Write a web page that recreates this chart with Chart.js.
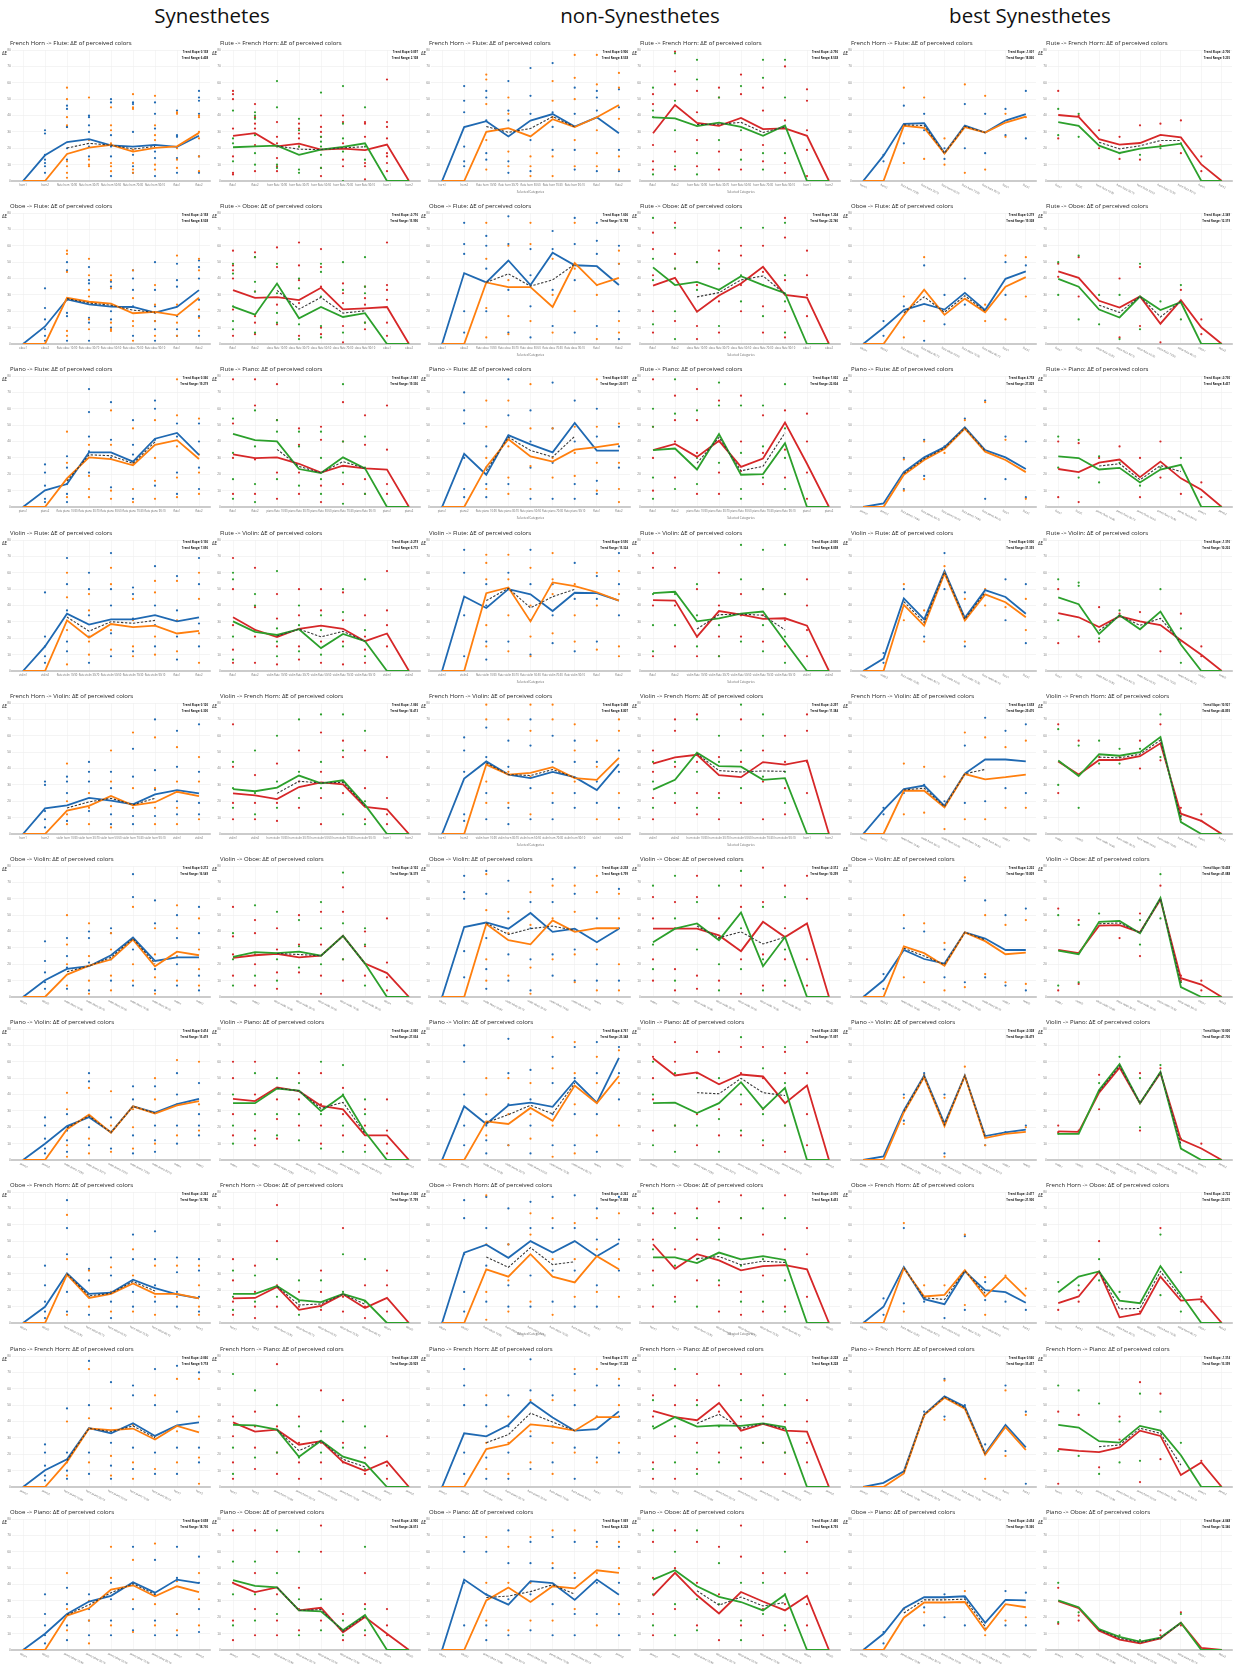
<!DOCTYPE html>
<html>
<head>
<meta charset="utf-8">
<script src="https://cdn.jsdelivr.net/npm/chart.js@4.4.0/dist/chart.umd.min.js"></script>
<style>
  body { margin: 0; background: #fff; width: 1239px; height: 1670px; position: relative; overflow: hidden; font-family: "Open Sans", sans-serif; }
  .head { position: absolute; top: 1px; width: 300px; text-align: center; font-size: 20.5px; color: #111; line-height: 28px; }
  canvas { position: absolute; }
</style>
</head>
<body>
<div class="head" style="left:62px">Synesthetes</div>
<div class="head" style="left:490px">non-Synesthetes</div>
<div class="head" style="left:880px">best Synesthetes</div>
<script>
// panel rows: source -> target (left panel), target -> source (right panel)
const pairs = [
  ["French Horn", "Flute"], ["Oboe", "Flute"], ["Piano", "Flute"], ["Violin", "Flute"],
  ["French Horn", "Violin"], ["Oboe", "Violin"], ["Piano", "Violin"],
  ["Oboe", "French Horn"], ["Piano", "French Horn"], ["Oboe", "Piano"]
];
const shortNames = { "French Horn": "horn", "Flute": "flute", "Oboe": "oboe", "Piano": "piano", "Violin": "violin" };
const mixLabels = ["10:90", "30:70", "50:50", "70:30", "90:10"];

// ---- Synesthetes: lines ----
const synBlue = [
  [0,15.7,23.8,25.6,21.8,21,22,20.8,27.6],
  [0,10.7,27.2,24.2,22.8,22.6,19.2,22.6,32.9],
  [0,10.2,14,33.4,33.4,27.7,41.7,45.2,31.8],
  [0,15,35,28.3,31.5,31.5,34.1,30.3,32.8],
  [0,15.6,17.5,22,20.4,18.2,24.2,26.8,24.8],
  [0,10.2,17.2,18.8,25.5,36.3,22,24.2,24.2],
  [0,9.9,20.7,26.1,16.9,32.8,29,34.1,37.3],
  [0,9.9,30.3,17.8,18.5,26.4,21.3,17.5,15],
  [0,10.2,16.9,36,32.8,38.9,31.2,37.6,39.5],
  [0,9.9,22,29.6,33.1,41.4,35,43,40.8]
];
const synOrange = [
  [0,0,16.5,20.4,22,18,20.2,21.2,29.4],
  [0,0,28.2,25.8,24.6,18.8,19.6,17.5,28.2],
  [0,0,17.5,30.3,29.3,25.5,37.9,40.8,29.3],
  [0,0,30.9,20.4,28.7,26.8,27.7,22.9,24.5],
  [0,0,14.3,17.2,23.2,17.5,19.4,25.8,23.2],
  [0,0,13.7,19.1,22.9,35,18.8,27.7,25.5],
  [0,0,18.8,27.7,16.6,32.8,28.3,33.4,36],
  [0,0,29.6,15.3,17.8,24.2,17.8,17.8,15],
  [0,0,15.3,35.7,34.7,35.7,29,37.3,33.4],
  [0,0,21,25.5,36.9,39.5,32.8,38.9,35.4]
];
const synRed = [
  [27.6,29.2,21.2,22.8,19.2,19.8,18.8,22.2,0],
  [32.9,28.2,28.6,26.8,34.3,21.2,21.8,22.6,0],
  [32.2,29.9,30.3,26.4,21,25.2,23.6,22.9,0],
  [32.8,25.2,20.7,25.8,27.7,25.8,18.2,22.9,0],
  [24.8,23.6,21.3,28.7,31.5,30.3,16.6,15,0],
  [23.9,25.5,26.4,24.2,25.2,37.3,20.4,14.6,0],
  [37.3,36,44.3,42,33.1,30.9,15,15,0],
  [15,15.3,22,8,10.5,17.5,9.2,15.3,0],
  [39.5,33.8,35,25.8,28,15.3,9.9,15.6,0],
  [40.8,35.4,38.2,24.2,25.8,10.8,20.1,9.9,0]
];
const synGreen = [
  [20.6,21.2,21.6,16,19.2,20.8,23,0,0],
  [22.8,17.9,36.9,15.7,22.6,16.5,18.8,0,0],
  [44.6,40.8,40.1,23.2,20.7,30.3,23.6,0,0],
  [30.3,23.9,22,25.5,14,22.6,18.2,0,0],
  [27.4,26.1,28.3,35.7,30.9,32.8,17.8,0,0],
  [24.5,27.4,26.8,27.7,25.2,37.3,20.4,0,0],
  [34.7,34.7,43.6,42.4,29.9,39.5,17.2,0,0],
  [17.8,17.8,22.6,14,12.7,17.8,13.7,0,0],
  [37.9,37.6,35,18.5,28.3,18.5,14.6,0,0],
  [42.7,39.2,38.2,24.2,23.6,12.1,21.3,0,0]
];

// ---- non-Synesthetes: lines ----
const nonBlue = [
  [0,32.9,36.5,27.2,36.9,40.9,33.3,38.9,29.2],
  [0,43.3,37.6,51,36,55.7,48.1,47.5,36],
  [0,32.5,19.7,43.9,38.2,33.4,51.3,34.4,34.4],
  [0,45.5,38.5,50,46.8,36.6,47.8,47.5,43],
  [0,33.8,44.3,36.3,34.1,37.9,34.7,26.8,42.7],
  [0,42.7,45.5,41.7,51.3,39.8,41.7,33.4,41.7],
  [0,32.8,22,33.4,35,32.5,48.4,35,62.4],
  [0,43,47.8,39.8,50,43,50,40.8,48.7],
  [0,32.8,30.9,37.9,51.9,42.4,34.4,35.4,46.2],
  [0,43,33.8,27.7,42,40.8,30.6,43,33.8]
];
const nonOrange = [
  [0,0,30,32.3,27.2,37.7,32.9,38.9,46.4],
  [0,0,37.6,34.7,34.7,22.6,49.4,36,40.4],
  [0,0,24.5,41.4,30.9,27.7,35,36.6,38.5],
  [0,0,47.5,51,30.3,54.1,51.9,48.1,43],
  [0,0,42.4,36.3,37.3,40.8,34.1,33.1,46.5],
  [0,0,44.6,34.7,32.2,46.8,39.8,42,42],
  [0,0,23.6,22,31.8,23.9,45.5,34.7,51.3],
  [0,0,32.8,28.3,42,28.3,24.8,40.8,32.8],
  [0,0,23.2,26.1,38.2,36.9,34.4,42.7,42.7],
  [0,0,30.3,38.2,29.3,38.9,37.6,48.7,47.1]
];
const nonRed = [
  [29.2,46.4,35.5,33.7,38.5,31.7,32.1,27.6,0],
  [35.7,40.4,19.7,29.6,36.9,47.1,30,28.3,0],
  [34.7,38.5,30.6,40.4,24.5,29.6,51.6,26.4,0],
  [43.3,43,21,36.6,34.4,31.8,32.2,27.7,0],
  [43,46.8,48.4,36,34.7,43.9,42.4,44.9,0],
  [41.7,41.7,41.7,37.6,28,45.9,36.6,44.9,0],
  [62.1,51.6,53.5,46.2,52.2,51,34.7,45.5,0],
  [48.1,33.1,42,38.2,32.2,34.7,35.4,32.8,0],
  [46.5,42.7,40.8,51.3,34.4,38.5,34.4,33.8,0],
  [33.1,47.1,33.4,22.3,35.4,29.6,24.2,33.1,0]
];
const nonGreen = [
  [38.9,38.3,33.5,35.7,33.1,27.6,33.9,0,0],
  [46.8,36,37.9,33.1,41.4,36,31,0,0],
  [34.7,35.7,22.9,44.6,19.7,20.1,38.9,0,0],
  [47.5,48.4,30.3,32.2,35,36.3,18,0,0],
  [27.1,33.1,49.7,41.4,41.1,33.1,34.1,0,0],
  [33.4,41.7,44.9,34.7,51.6,18.8,36.6,0,0],
  [34.7,35,28.7,34.7,47.5,31.2,44,0,0],
  [40.1,40.1,36.6,43,38.9,40.8,38.5,0,0],
  [35.4,42.7,36.9,37.6,37.3,38.9,36.6,0,0],
  [43,48.7,38.9,32.5,29.3,24.2,33.8,0,0]
];

// ---- best Synesthetes: lines ----
const bestBlue = [
  [0,15.5,34.9,35.3,17.1,33.9,29.6,36.9,40.9],
  [0,9.9,20.7,24.5,21,31.2,20.7,39.8,44.3],
  [0,2.2,21.3,30.3,36.6,48.7,34.7,30.3,23.2],
  [0,7.6,44.3,31.5,61.1,32.5,49.4,45.2,35],
  [0,14.6,27.4,29.6,17.2,36.9,45.5,45.5,44.3],
  [0,10.2,28.7,23.2,20.4,39.5,35.7,28.7,28.7],
  [0,2.2,30.3,51.6,22.3,51.6,14.6,16.9,18.5],
  [0,9.9,34.1,14.6,11.5,31.5,20.1,18.8,12.4],
  [0,2.5,9.6,44.3,55.4,49,20.4,37.9,24.2],
  [0,9.9,25.5,32.2,32.2,32.8,16.6,30.6,30.3]
];
const bestOrange = [
  [0,0,33.7,32.5,16.7,32.9,29.6,35.7,39.3],
  [0,0,17.5,33.1,17.8,27.7,19.4,35,40.8],
  [0,0,19.7,28.7,35.4,47.8,33.8,28.7,21.3],
  [0,0,40.4,27.7,59.6,30.9,46.8,42,32.8],
  [0,0,26.4,26.4,16.2,36.6,33.4,34.7,36.3],
  [0,0,30.9,26.8,19.1,39.5,34.1,26.1,27.1],
  [0,0,29,50.6,20.7,51.3,13.4,15.9,17.2],
  [0,0,33.4,16.2,17.2,32.2,16.2,28.3,16.2],
  [0,0,8.3,43.9,54.5,47.8,19.7,36.6,22.6],
  [0,0,19.7,29,29,29.3,12.1,28,26.1]
];
const bestRed = [
  [40.3,39.1,25.6,22.2,23.2,28.2,26.6,10.1,0],
  [44.3,40.4,26.4,22.3,29,12.4,26.8,10.2,0],
  [23.2,21.3,27.1,29,18.2,27.7,17.5,10.5,0],
  [35.4,32.8,26.8,33.4,30.3,28,18.8,9.9,0],
  [44.3,36.3,45.2,45.2,47.5,55.4,12.4,8,0],
  [28.7,26.8,43.6,43.9,39.5,59.6,11.5,7.6,0],
  [17.5,17.2,41.1,56.4,34.7,53.2,12.4,7,0],
  [12.1,16.2,31.5,3.5,5.7,28.3,13.7,14.6,0],
  [23.2,22,21.3,24.2,34.4,31.2,7.3,15,0],
  [29.9,25.5,11.8,6.4,4.1,7,16.6,1.3,0]
];
const bestGreen = [
  [35.9,33.7,21.6,17.1,19.8,21.2,22.8,0,0],
  [39.8,35,21,16.2,29,20.7,25.5,0,0],
  [30.9,29.9,22.9,23.9,15,22.9,25.8,0,0],
  [44.9,40.8,22.6,34.1,25.5,36.3,16.2,0,0],
  [44.9,35.4,48.7,47.8,50,59.2,7.3,0,0],
  [28.3,26.1,45.9,46.5,38.9,60.5,6.1,0,0],
  [15.9,15.9,42.7,58.6,34.7,53.8,7,0,0],
  [18.8,28.3,31.5,13.7,12.1,34.7,17.5,0,0],
  [37.9,36.3,28,27.1,37.3,34.4,19.4,0,0],
  [30.3,26.1,12.7,8,5.1,7.6,16.6,0,0]
];

// ---- individual answers (dots), per row, per category ----
const synBlueDots = [
  [[],[31,29,16,13,11,9,5],[46,44,33,33,20,13],[40,39,34,30,21,15],[50,48,28,21,15,3],[48,47,30,16,9,5],[48,41,32,18,14,3],[43,28,27,14,5],[55,51,49,41,15,5]],
  [[],[34,22,15,9,5,2],[50,45,27,19,17,2],[47,39,37,16,13,2],[38,35,20,15,10],[45,40,33,23,5],[50,33,23,14,9,2],[49,39,35,17,9,5],[51,47,40,27,17,5]],
  [[],[26,21,13,5,3],[31,24,14,8,3],[72,58,43,34,21],[64,41,30,12],[53,38,32,5],[65,60,41,13],[51,43,21,8],[51,40,24,11]],
  [[],[48,21,15,9,5],[69,53,37,18,12],[60,50,34,21,5],[72,50,40,23,9],[51,47,32,12],[64,40,28,15],[58,37,21,7],[69,53,29,15]],
  [[],[32,30,14,9,4],[35,32,25,8],[44,38,32,14],[38,28,12,6],[52,35,11,6],[70,39,27,11],[63,41,20,12],[67,38,19,12]],
  [[],[34,22,15,9,5],[36,25,18,5],[40,36,21,4],[42,39,23,10],[75,61,29,7],[59,45,17,4],[50,36,20,7],[55,39,13,4]],
  [[],[26,21,13,7,4],[28,18,12,5],[53,48,20,9],[26,17,7],[45,37,15,4],[45,21,12,5],[53,40,21,10],[47,28,21,15]],
  [[],[35,23,13,7,3],[75,58,42,19,7],[33,26,16,5],[40,29,13,3],[54,39,19,10],[56,39,23,13],[40,31,19,10],[39,32,16,7]],
  [[],[26,21,13,7,4],[48,21,10,5],[77,50,21,8],[64,27,13,5],[62,56,24,11],[72,50,21,8],[74,46,24,8],[70,24,15]],
  [[],[34,22,15,9,4],[38,28,15,6],[34,25,18,9],[41,31,18,9],[63,41,25,12],[55,34,18,9],[63,44,22,9],[57,41,25,11]]
];
const synOrangeDots = [
  [[],[],[57,50,39,34,12,9,5,2],[51,25,13,10,9],[45,34,31,23,11,9,6],[53,45,44,19,11,7,5],[52,34,28,25,10,7],[42,41,20,13,8],[40,39,30,26,15,6]],
  [[],[],[57,55,44,27,8,5],[52,42,33,29,15,9],[42,39,34,13,9,8],[45,28,14,11,2],[36,24,19,14,5],[54,24,13,5],[52,45,21,16,8]],
  [[],[],[46,27,17,6],[38,19,11,6],[59,38,10,5],[48,27,11,3],[53,30,16,5],[78,56,37,18,6],[54,32,21,8]],
  [[],[],[60,45,25,4],[47,37,18,10],[63,53,25,13],[44,31,15,9],[55,48,21,10],[55,31,12],[60,44,23,5]],
  [[],[],[43,20,12,6],[25,16,6],[51,32,17,4],[62,28,16],[59,28,16,6],[53,32,16,6],[47,32,9]],
  [[],[],[50,32,20,7],[45,25,10,2],[39,29,13,4],[55,36,20,10],[42,26,12,2],[56,42,25,10],[48,29,17,7]],
  [[],[],[41,31,9,2],[44,13,4],[42,21,5],[31,20,7],[50,37,10],[61,34,15],[60,34,18]],
  [[],[],[66,39,29,5],[32,10],[34,19,7],[45,29,7],[35,16,5],[35,16],[35,23,10,5]],
  [[],[],[40,15,7],[72,42,15],[48,19,7],[38,15,5],[56,31,11],[66,34,15],[66,43,18,2]],
  [[],[],[47,25,12],[30,18,4],[63,44,15],[55,31,11],[65,28,15],[42,22,12],[47,31,15]]
];
const synRedDots = [
  [[55,53,50,32,15,5,4],[47,39,35,32,22,6],[36,27,23,14,9,6],[35,32,29,26,21],[40,33,30,27,8,3],[40,36,23,13,9],[36,35,27,11,9,1],[62,36,33,26,17,15,11,6],[]],
  [[57,48,45,40,21,5],[56,53,32,17,13,6],[59,47,24,12],[62,48,39,25,5],[58,47,35,10,6],[37,31,25,11,1],[35,28,24,13,9],[62,36,33,27,13,5],[]],
  [[78,51,30,8],[78,62,29,8],[75,53,21,5],[48,38,21,8],[49,41,13,3],[64,40,25,14],[56,38,17,8],[62,35,14,8],[]],
  [[69,50,28,13,5],[63,39,21,5],[47,32,15,4],[50,34,15,7],[50,37,18,5],[48,31,18,4],[34,21,13,5],[61,37,28,15],[]],
  [[67,41,19,9],[36,19,9],[43,19,8],[51,32,16],[62,38,22,6],[57,47,25],[51,28,9],[47,22,12,6],[]],
  [[55,37,26,13],[47,39,20,7],[42,29,15,5],[50,32,15],[52,32,13,2],[67,52,23,10],[40,31,13],[48,21,12,4],[]],
  [[60,50,28,15],[60,40,18,9],[37,25,13],[53,37,21],[53,34,21,10],[44,28,15],[31,21,9],[37,18,10,4],[]],
  [[39,26,13,5],[35,19,10,3],[72,50,23,10],[19,10],[32,19,8],[58,16,7],[23,10,3],[32,23,7],[]],
  [[43,31,15,5],[46,37,24,11],[75,37,21,8],[43,27,15,5],[59,27,15,5],[53,27,15],[18,8],[31,13,5],[]],
  [[73,41,18,6],[73,47,25,9],[60,34,18,9],[38,25,12],[76,60,18],[22,12,6],[47,28,9],[25,15,9],[]]
];
const synGreenDots = [
  [[43,26,23,12],[42,40,38,28,17,10],[61,45,21,10,8],[38,31,21,7,5],[54,27,24,21,16,8],[58,35,26,18,0],[45,21,13],[],[]],
  [[49,43,23,14,9],[53,38,32,7],[49,31,19,13],[40,34,12,3],[49,44,29,11,4],[50,33,7],[53,35,31,13],[],[]],
  [[54,33,17,5],[59,37,14,3],[53,46,17],[46,37,13],[46,30,17,8],[75,40,21,2],[43,24,8],[],[]],
  [[60,56,21,7],[47,40,25],[61,26,18,9],[40,28,12],[34,25,10],[50,36,15],[56,25,9],[],[]],
  [[44,28,16],[51,25,12],[60,32,16],[70,38,22],[73,44,28],[73,51,32,12],[63,20,6],[],[]],
  [[39,23,7],[56,26,13],[52,23,10],[47,31,18],[58,42,20],[76,45,23],[42,32,7],[],[]],
  [[40,21,10],[53,28,13],[50,28,15],[47,28,12],[60,28,7],[58,40,21,5],[37,28,5],[],[]],
  [[32,16,8],[29,13],[39,16],[26,13,5],[26,10],[42,19],[39,13],[],[]],
  [[69,24,8],[59,18],[50,21],[37,18],[34,21],[40,24],[37,24,11],[],[]],
  [[54,34,15],[54,34,18],[73,47,22],[60,31,9],[31,12],[18,9],[63,25,12],[],[]]
];

const nonBlueDots = [
  [[],[58,49,42,21,12,9],[55,51,37,17,13],[61,43,37,12,5],[69,52,41,25,6],[72,42,33,19],[57,41,19,7],[55,51,43,6],[56,45,19,6]],
  [[],[74,61,55,20,7],[66,60,46,20],[78,61,33,7],[58,42,23,4],[69,58,33,11],[77,61,39,7],[74,63,55,11],[60,49,20,3]],
  [[],[70,59,51,30,11,6],[37,24,14,6],[78,56,43,14],[59,40,24,5],[76,48,27,5],[65,40,14,5],[60,43,16,8],[49,37,24]],
  [[],[74,60,34,9],[53,40,18,7],[60,50,18],[74,53,31,10],[53,34,17],[66,44,12],[58,44,18],[72,53,34]],
  [[],[59,51,38,12,8],[65,47,25,9],[57,41,16,6],[70,54,28,9],[60,44,19,9],[57,44,25,16],[44,32,19],[51,38,16]],
  [[],[74,64,60,28,12],[77,63,36,17,5],[71,48,26,10],[58,42,23,4],[72,58,26,13],[79,63,29,10],[48,20,10],[66,42,10]],
  [[],[70,60,40,21,9],[28,21,12,4],[74,53,34,9],[55,37,21,4],[63,47,28,9],[69,50,28,9],[72,53,28,5],[69,53,37]],
  [[],[75,64,42,19,7],[77,58,35,13],[70,48,23,10],[74,58,29,10],[77,58,32,13],[78,58,32,10],[70,51,23,10],[77,51,32]],
  [[],[72,62,50,21,8],[50,37,18,5],[56,37,21,5],[78,59,31,11],[56,37,15],[69,50,24,5],[62,43,18],[62,43,21]],
  [[],[69,60,41,15],[60,34,15,6],[73,53,31,9],[66,53,34,12],[69,50,28,9],[66,44,22,9],[66,41,22],[63,41,22,9]]
];
const nonOrangeDots = [
  [[],[],[65,62,47,25,7],[51,41,18,9],[15,9,3],[61,49,39,15,3],[77,63,50,25,9],[77,59,31,17,9],[66,57,38,15,7]],
  [[],[],[74,52,22,4],[60,39,17,6],[74,61,36,14],[52,30,7],[74,46,20],[36,30,3],[57,49,14,7]],
  [[],[],[65,49,30,11],[65,37,18,8],[75,48,25,11],[48,30,18],[49,33,19],[78,49,27,10],[51,27,11,3]],
  [[],[],[71,66,56,28,15],[71,56,34,12],[63,40,21,9],[72,56,47,23],[53,34,18],[60,40,13],[61,47,15,9]],
  [[],[],[79,70,32,19],[70,38,19],[79,63,35,12],[79,70,25],[67,51,32],[57,41,9],[70,63,25,9]],
  [[],[],[75,53,23,10],[52,39,13],[64,44,18,2],[68,48,23],[68,52,26,9],[74,64,29,4],[63,48,20,4]],
  [[],[],[50,40,15],[50,28,9],[47,28,13],[75,56,21,2],[72,53,34,4],[63,47,15],[67,47,21]],
  [[],[],[78,48,19,2],[48,26,7],[67,54,13],[64,39,5],[61,39,16],[64,45,19],[67,39,16]],
  [[],[],[56,27,11],[43,27,8],[53,34,15],[53,27,8],[72,59,21],[72,43,15],[66,50,27]],
  [[],[],[69,41,18],[63,41,12],[69,41,18],[73,53,18],[73,47,25],[63,47,15],[66,50,28]]
];
const nonRedDots = [
  [[53,47,22,12,7],[79,67,59,18,7],[55,42,25,9],[57,51,18,7],[65,53,19,7],[57,43,22,12],[70,37,11,5],[56,49,31,19,3],[]],
  [[68,58,42,20,7],[74,55,46,14],[50,36,11,3],[57,49,26,7],[60,54,36,20],[60,44,23,7],[77,65,39,20,4],[57,42,30,17],[]],
  [[78,49,30,10],[68,53,40,18],[72,53,33,8],[65,40,21,8],[68,40,22],[56,33,14],[59,35,18],[57,40,21,5],[]],
  [[72,63,40,9],[63,40,15],[50,21,9],[60,40,21,9],[47,34,21],[50,34,18],[47,31,15],[56,40,25,9],[]],
  [[51,38,22,9],[70,63,41,19],[73,44,25,12],[47,25,9],[70,44,19],[51,32,9],[60,44,28,12],[73,63,44,25],[]],
  [[61,48,23,10],[58,42,17,4],[74,61,13,5],[48,36,10],[68,55,23,2],[79,58,26,7],[68,42,23,7],[74,60,23,7],[]],
  [[63,50,37,18],[72,60,21],[66,53,28,9],[66,31,15],[69,53,34,15],[69,50,31,9],[66,53,21,5],[72,53,28,9],[]],
  [[67,51,32,10],[67,45,16],[70,51,26],[74,58,23,7],[78,64,19,5],[54,29,7],[78,45,10],[58,42,16],[]],
  [[56,43,15,5],[62,50,31,5],[69,53,27,11],[62,46,21],[69,43,18,5],[56,43,27,15],[40,21,8],[53,40,27,15],[]],
  [[66,44,22,9],[73,50,25],[66,41,15],[63,34,6],[76,57,15],[47,25,9],[47,28,12],[66,47,28,15],[]]
];
const nonGreenDots = [
  [[57,43,39,4],[78,49,31,9],[74,62,17,4],[51,25],[58,31,13],[74,63,17,7],[74,51,17],[],[]],
  [[77,52,39,12],[71,46,20,3],[50,33,20],[46,33,11],[71,42,26],[71,36,17],[74,42,26,7],[],[]],
  [[60,49,18,5],[78,57,11],[59,30,14],[76,62,27],[62,33,11,5],[62,37,18],[75,48,30,11],[],[]],
  [[47,28,12],[47,28],[53,34,15],[28,9],[77,56,18],[74,50,28,12],[77,47,21,5],[],[]],
  [[44,32,16],[44,25],[70,38,16],[60,44,22],[79,51,28],[73,60,35],[38,19],[],[]],
  [[68,32,17],[74,48,10],[58,29],[68,20,4],[77,42,17],[55,23,4],[61,29,10],[],[]],
  [[60,40,9],[53,21,5],[50,21],[50,25,5],[75,40,18],[56,28,12],[69,47,21],[],[]],
  [[70,45,23],[58,35,13],[64,39,10],[51,26],[64,35,13],[70,39,13],[64,26,7],[],[]],
  [[53,37,11],[72,37,15],[50,21,8],[37,15],[53,24],[50,27],[69,50,21],[],[]],
  [[73,34,15],[60,28,9],[73,31,12],[53,28],[41,18,6],[41,22],[60,34,15],[],[]]
];

const bestBlueDots = [
  [[],[16,12],[46,23],[41,31],[20,13.5],[47,20],[41,17],[44,28],[55,26]],
  [[],[14,5],[23],[48,2],[30,12],[40,24],[],[50,30],[48]],
  [[],[],[30,11],[41,19],[37],[54],[65,5],[43,17],[40,6]],
  [[],[11,5],[50],[21],[72,50],[48,15],[],[56,31],[53,17]],
  [[],[16,12],[25],[30],[20],[54,19],[71,20],[63,28],[67,25]],
  [[],[14,5],[42],[40],[29,12],[71,9],[59,12],[50,7],[54,4]],
  [[],[],[40,24],[53],[40,4],[],[9],[17],[21]],
  [[],[15,5],[58,12],[13],[3],[53,8],[25,14],[13],[8]],
  [[],[],[9],[46],[66,43],[50],[26],[62,22],[46,2]],
  [[],[11,4],[25],[26,15],[34,20],[32,15],[13],[36,15],[35,15]]
];
const bestOrangeDots = [
  [[],[],[57,11],[51,13.5],[26,10],[59,5],[52,7],[41,27],[39]],
  [[],[],[29,4],[53,14],[],[],[24,14],[54,15],[53,29]],
  [[],[],[29,10],[40,17],[33],[53],[64],[41],[5]],
  [[],[],[53,31],[37,18],[64],[44,18],[50,40],[39],[44,25]],
  [[],[],[43,12],[41,13],[35,3],[62,9],[59,9],[53,16],[57,16]],
  [[],[],[50,12],[45,9],[33,4],[73,6],[50,14],[44,9],[47,8]],
  [[],[],[38,22],[52],[38,2],[57],[9],[],[20]],
  [[],[],[61,7],[23],[23],[54,11],[28,5],[29],[21]],
  [[],[],[],[43],[65,41],[48],[5],[59,19],[44]],
  [[],[],[25],[23],[32],[36],[9],[18],[20]]
];
const bestRedDots = [
  [[55,26],[40],[31,20],[27,13.5],[34,13],[35,22],[37,17],[15,6],[]],
  [[49,41],[53,29],[],[40,4],[47,11],[1],[33,26],[15,6],[]],
  [[40,6],[39,3],[30],[37],[30,6],[40,18],[8],[15,6],[]],
  [[50,17],[21],[39,18],[35],[36],[12],[35],[15,9],[]],
  [[67,25],[57],[47],[47],[57,40],[67,45],[16,9],[12,8],[]],
  [[54,4],[47,8],[],[36],[51,25],[68],[13,10],[10,4],[]],
  [[21,17],[18],[52,31],[],[53,18],[56],[],[10],[]],
  [[8],[20,13],[50],[],[7],[58],[],[16,13],[]],
  [[46,2],[44],[12],[43,29],[64,3],[57,17],[],[16],[]],
  [[38,16],[21,18],[12],[],[],[12,9],[23,15],[],[]]
];
const bestGreenDots = [
  [[44,28],[41,27],[],[17],[16],[20],[23],[],[]],
  [[50,30],[54,15],[30,12],[30,3],[49,9],[26],[36,15],[],[]],
  [[43,24],[41,18],[31,15],[27],[13],[24],[30],[],[]],
  [[56,31],[54,52],[20],[37],[],[50],[26,5],[],[]],
  [[64,30],[54,16],[57,43],[52,43],[52],[73,47],[11],[],[]],
  [[50,7],[44,9],[51],[],[47,32],[75,48],[9],[],[]],
  [[16],[],[47],[63],[50,20],[58],[13],[],[]],
  [[25],[23],[39,26],[19],[],[54,17],[31,7],[],[]],
  [[62,22],[59,19],[51,8],[40,15],[57,16],[46],[27],[],[]],
  [[41,17],[23],[],[9],[6],[7],[22],[],[]]
];

// trend annotations: [left slope, left range, right slope, right range]
const synTrend = [
  ["0.138","6.408","0.097","2.108"], ["-0.158","8.508","-0.710","15.996"], ["0.366","19.279","-1.061","19.336"],
  ["0.136","7.050","-0.219","6.773"], ["0.120","6.300","-1.060","16.413"], ["0.272","16.549","-0.102","14.379"],
  ["0.414","15.419","-3.060","27.034"], ["-0.262","13.780","-1.020","11.799"], ["-0.066","9.718","-3.209","20.929"],
  ["0.698","18.730","-4.906","24.013"]
];
const nonTrend = [
  ["0.906","8.538","-0.750","8.538"], ["1.606","15.798","1.204","22.740"], ["0.301","20.071","1.002","22.004"],
  ["0.550","15.324","-0.030","8.098"], ["0.498","8.807","-0.297","11.384"], ["-0.238","6.799","-0.312","10.299"],
  ["4.761","25.348","-0.260","11.097"], ["-0.262","11.808","-0.016","8.453"], ["2.175","17.228","-0.228","8.228"],
  ["1.069","8.228","-1.460","8.793"]
];
const bestTrend = [
  ["-1.001","18.860","-0.700","9.235"], ["0.279","19.308","-3.349","12.319"], ["4.718","27.829","-0.730","8.437"],
  ["0.006","31.393","-1.310","10.202"], ["3.658","29.470","10.921","46.893"], ["2.202","19.809","10.438","41.088"],
  ["-0.308","36.479","10.000","47.700"], ["-0.477","21.900","-0.722","22.675"], ["0.566","35.457","-1.314","13.399"],
  ["-0.454","15.360","-4.048","12.346"]
];

const groupSets = [
  { lines: [synBlue, synOrange, synRed, synGreen], dots: [synBlueDots, synOrangeDots, synRedDots, synGreenDots], trend: synTrend },
  { lines: [nonBlue, nonOrange, nonRed, nonGreen], dots: [nonBlueDots, nonOrangeDots, nonRedDots, nonGreenDots], trend: nonTrend },
  { lines: [bestBlue, bestOrange, bestRed, bestGreen], dots: [bestBlueDots, bestOrangeDots, bestRedDots, bestGreenDots], trend: bestTrend }
];

// plot-area x extents of the six panel columns, in page pixels
const colX = [[12, 211], [222, 421], [431, 631], [642, 841], [853, 1037], [1048, 1233]];
const ROW0 = 50, ROWH = 163.2, PLOT_H = 131;
const PAD_TOP = 14, AXIS_H = 28, YAXIS_W = 12, PAD_R = 3;

const BLUE = "#1f69b2", ORANGE = "#ff7f0e", RED = "#d62728", GREEN = "#2ca02c";

// titles, delta-E label, trend text and category labels
const panelText = {
  id: "panelText",
  afterDraw(chart, args, o) {
    const { ctx, chartArea: a, scales: { x } } = chart;
    ctx.save();
    ctx.textBaseline = "middle";
    ctx.fillStyle = "#222";
    ctx.textAlign = "left";
    ctx.font = '6px "Open Sans"';
    ctx.fillText(o.title, a.left - 2, a.top - 7);
    ctx.font = '4.4px "Open Sans"';
    ctx.fillText("ΔE", a.left - 10, a.top + 4);
    ctx.font = 'bold 2.8px "Open Sans"';
    ctx.textAlign = "right";
    ctx.fillText("Trend Slope: " + o.slope, a.right - 2, a.top + 2.5);
    ctx.fillText("Trend Range: " + o.range, a.right - 2, a.top + 8);
    ctx.fillStyle = "#666";
    ctx.font = '2.7px "Open Sans"';
    o.labels.forEach((lab, i) => {
      const px = x.getPixelForTick(i);
      if (o.rotate) {
        ctx.save();
        ctx.translate(px - 3, a.bottom + 3.5);
        ctx.rotate(Math.PI / 6.5);
        ctx.textAlign = "left";
        ctx.fillText(lab, 0, 0);
        ctx.restore();
      } else {
        ctx.textAlign = "center";
        ctx.fillText(lab, px, a.bottom + 4);
      }
    });
    if (o.axisTitle) {
      ctx.textAlign = "center";
      ctx.font = '3px "Open Sans"';
      ctx.fillText("Selected Categories", (a.left + a.right) / 2, a.bottom + 11);
    }
    ctx.restore();
  }
};

function dotData(rows, labels) {
  const pts = [];
  rows.forEach((vals, i) => vals.forEach(v => pts.push({ x: labels[i], y: v })));
  return pts;
}

function makePanel(g, r, side) {
  const set = groupSets[g];
  const [x0, x1] = colX[g * 2 + side];
  const top = ROW0 + r * ROWH;
  const canvas = document.createElement("canvas");
  const W = Math.round(x1 - x0 + YAXIS_W + PAD_R);
  const H = PAD_TOP + PLOT_H + AXIS_H;
  canvas.width = W;
  canvas.height = H;
  canvas.style.left = (x0 - YAXIS_W) + "px";
  canvas.style.top = Math.round(top - PAD_TOP) + "px";
  document.body.appendChild(canvas);

  const [src, dst] = pairs[r];
  const from = side === 0 ? src : dst;
  const to = side === 0 ? dst : src;
  const a = shortNames[from], b = shortNames[to];
  const labels = [a + "1", a + "2", ...mixLabels.map(m => b + " " + a + " " + m), b + "1", b + "2"];

  const s1 = set.lines[side * 2][r], s2 = set.lines[side * 2 + 1][r];
  const c1 = side === 0 ? BLUE : RED, c2 = side === 0 ? ORANGE : GREEN;
  const d1 = set.dots[side * 2][r], d2 = set.dots[side * 2 + 1][r];
  // dashed line: mean of the two curves over the five mixed categories
  const mean = s1.map((v, i) => (i >= 2 && i <= 6) ? (v + s2[i]) / 2 : null);

  const lineDs = (data, color, order) => ({
    type: "line", data, borderColor: color, backgroundColor: color, borderWidth: 1.8,
    pointRadius: 0, tension: 0, order, fill: false
  });
  const dotDs = (rows, color) => ({
    type: "scatter", data: dotData(rows, labels), backgroundColor: color, borderWidth: 0,
    pointRadius: 1.1, showLine: false, order: 3
  });

  const trend = set.trend[r];
  new Chart(canvas, {
    type: "line",
    data: {
      labels,
      datasets: [
        { type: "line", data: mean, borderColor: "#3a3a3a", borderWidth: 1.1, borderDash: [2.4, 1.6], pointRadius: 0, tension: 0, order: 0, spanGaps: false },
        lineDs(s2, c2, 1),
        lineDs(s1, c1, 2),
        dotDs(d2, c2),
        dotDs(d1, c1)
      ]
    },
    options: {
      responsive: false,
      animation: false,
      events: [],
      layout: { padding: { top: PAD_TOP, right: PAD_R, left: 0, bottom: 0 } },
      plugins: {
        legend: { display: false },
        tooltip: { enabled: false },
        panelText: {
          title: from + " -> " + to + ": ΔE of perceived colors",
          slope: trend[side * 2], range: trend[side * 2 + 1],
          labels,
          rotate: g === 2 || r >= 5,
          axisTitle: g === 1 && (r <= 4 || r === 7)
        }
      },
      scales: {
        x: {
          type: "category", offset: true,
          grid: { color: "#f0f0f0", lineWidth: 0.6, drawTicks: false },
          border: { color: "#cbcbcb", width: 2 },
          ticks: { display: false },
          afterFit: s => { s.height = AXIS_H; }
        },
        y: {
          min: 0, max: 80,
          grid: { color: "#ededed", lineWidth: 0.6, drawTicks: false },
          border: { display: false },
          ticks: { stepSize: 10, font: { size: 3.4 }, color: "#888", padding: 1 },
          afterFit: s => { s.width = YAXIS_W; }
        }
      }
    },
    plugins: [panelText]
  });
}

for (let g = 0; g < 3; g++) {
  for (let r = 0; r < 10; r++) {
    makePanel(g, r, 0);
    makePanel(g, r, 1);
  }
}
</script>
</body>
</html>
